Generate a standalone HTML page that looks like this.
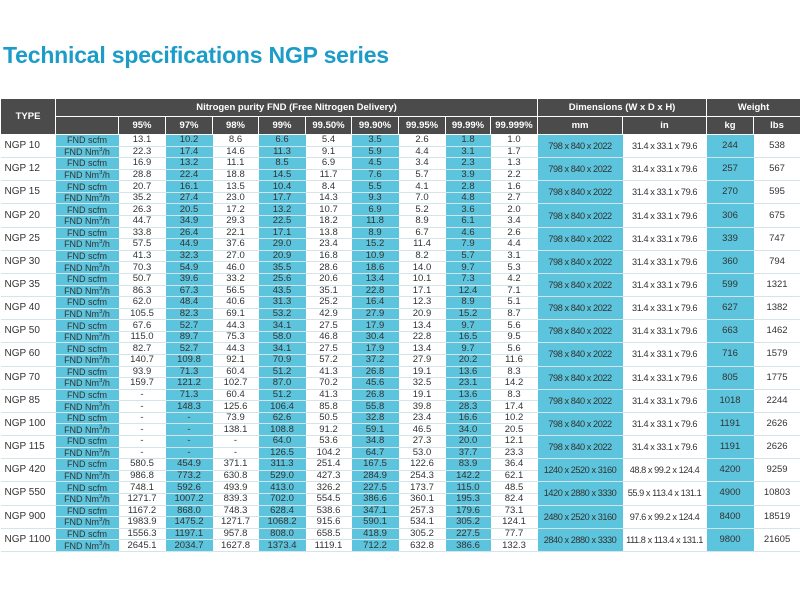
<!DOCTYPE html>
<html><head><meta charset="utf-8"><style>
body{margin:0;width:800px;height:600px;background:#fff;overflow:hidden;font-family:"Liberation Sans",sans-serif;}
h1{position:absolute;left:3px;top:42px;margin:0;font-size:23px;font-weight:bold;color:#1c9cc8;letter-spacing:-0.2px;}
table{position:absolute;left:0;top:99px;width:800px;border-collapse:collapse;table-layout:fixed;font-size:9.5px;color:#333;}
td,th{padding:0;text-align:center;white-space:nowrap;overflow:hidden;line-height:10px;vertical-align:middle;}
th{background:#4b4b4b;color:#fff;font-size:9.5px;font-weight:bold;border:1px solid #fff;border-top:none;}
tr.h1 th{height:17px;}
tr.h2 th{height:17px;}
td{height:10.58px;border-bottom:1px solid #d3e4ea;}
td.b{background:#5cc4dc;}
td.t{text-align:left;padding-left:4px;font-size:10px;border-bottom:1px solid #d3e4ea;}
td.l{background:#5cc4dc;font-size:9px;}
td.d{font-size:9.5px;}
td.m{font-size:9.2px;letter-spacing:-0.45px;}
</style></head><body>
<h1>Technical specifications NGP series</h1>
<table>
<colgroup><col style="width:55px"><col style="width:63px"><col style="width:47px"><col style="width:47px"><col style="width:46px"><col style="width:47px"><col style="width:46px"><col style="width:47px"><col style="width:47px"><col style="width:45px"><col style="width:47px"><col style="width:85px"><col style="width:84px"><col style="width:47px"><col style="width:47px"></colgroup>
<tr class="h1"><th rowspan="2">TYPE</th><th colspan="10">Nitrogen purity FND (Free Nitrogen Delivery)</th><th colspan="2">Dimensions (W x D x H)</th><th colspan="2">Weight</th></tr>
<tr class="h2"><th></th><th>95%</th><th>97%</th><th>98%</th><th>99%</th><th>99.50%</th><th>99.90%</th><th>99.95%</th><th>99.99%</th><th>99.999%</th><th>mm</th><th>in</th><th>kg</th><th>lbs</th></tr>
<tbody id="tb"></tbody>
</table>
<script>
var D=[
["NGP 10","13.1 10.2 8.6 6.6 5.4 3.5 2.6 1.8 1.0","22.3 17.4 14.6 11.3 9.1 5.9 4.4 3.1 1.7","798 x 840 x 2022","31.4 x 33.1 x 79.6","244","538"],
["NGP 12","16.9 13.2 11.1 8.5 6.9 4.5 3.4 2.3 1.3","28.8 22.4 18.8 14.5 11.7 7.6 5.7 3.9 2.2","798 x 840 x 2022","31.4 x 33.1 x 79.6","257","567"],
["NGP 15","20.7 16.1 13.5 10.4 8.4 5.5 4.1 2.8 1.6","35.2 27.4 23.0 17.7 14.3 9.3 7.0 4.8 2.7","798 x 840 x 2022","31.4 x 33.1 x 79.6","270","595"],
["NGP 20","26.3 20.5 17.2 13.2 10.7 6.9 5.2 3.6 2.0","44.7 34.9 29.3 22.5 18.2 11.8 8.9 6.1 3.4","798 x 840 x 2022","31.4 x 33.1 x 79.6","306","675"],
["NGP 25","33.8 26.4 22.1 17.1 13.8 8.9 6.7 4.6 2.6","57.5 44.9 37.6 29.0 23.4 15.2 11.4 7.9 4.4","798 x 840 x 2022","31.4 x 33.1 x 79.6","339","747"],
["NGP 30","41.3 32.3 27.0 20.9 16.8 10.9 8.2 5.7 3.1","70.3 54.9 46.0 35.5 28.6 18.6 14.0 9.7 5.3","798 x 840 x 2022","31.4 x 33.1 x 79.6","360","794"],
["NGP 35","50.7 39.6 33.2 25.6 20.6 13.4 10.1 7.3 4.2","86.3 67.3 56.5 43.5 35.1 22.8 17.1 12.4 7.1","798 x 840 x 2022","31.4 x 33.1 x 79.6","599","1321"],
["NGP 40","62.0 48.4 40.6 31.3 25.2 16.4 12.3 8.9 5.1","105.5 82.3 69.1 53.2 42.9 27.9 20.9 15.2 8.7","798 x 840 x 2022","31.4 x 33.1 x 79.6","627","1382"],
["NGP 50","67.6 52.7 44.3 34.1 27.5 17.9 13.4 9.7 5.6","115.0 89.7 75.3 58.0 46.8 30.4 22.8 16.5 9.5","798 x 840 x 2022","31.4 x 33.1 x 79.6","663","1462"],
["NGP 60","82.7 52.7 44.3 34.1 27.5 17.9 13.4 9.7 5.6","140.7 109.8 92.1 70.9 57.2 37.2 27.9 20.2 11.6","798 x 840 x 2022","31.4 x 33.1 x 79.6","716","1579"],
["NGP 70","93.9 71.3 60.4 51.2 41.3 26.8 19.1 13.6 8.3","159.7 121.2 102.7 87.0 70.2 45.6 32.5 23.1 14.2","798 x 840 x 2022","31.4 x 33.1 x 79.6","805","1775"],
["NGP 85","- 71.3 60.4 51.2 41.3 26.8 19.1 13.6 8.3","- 148.3 125.6 106.4 85.8 55.8 39.8 28.3 17.4","798 x 840 x 2022","31.4 x 33.1 x 79.6","1018","2244"],
["NGP 100","- - 73.9 62.6 50.5 32.8 23.4 16.6 10.2","- - 138.1 108.8 91.2 59.1 46.5 34.0 20.5","798 x 840 x 2022","31.4 x 33.1 x 79.6","1191","2626"],
["NGP 115","- - - 64.0 53.6 34.8 27.3 20.0 12.1","- - - 126.5 104.2 64.7 53.0 37.7 23.3","798 x 840 x 2022","31.4 x 33.1 x 79.6","1191","2626"],
["NGP 420","580.5 454.9 371.1 311.3 251.4 167.5 122.6 83.9 36.4","986.8 773.2 630.8 529.0 427.3 284.9 254.3 142.2 62.1","1240 x 2520 x 3160","48.8 x 99.2 x 124.4","4200","9259"],
["NGP 550","748.1 592.6 493.9 413.0 326.2 227.5 173.7 115.0 48.5","1271.7 1007.2 839.3 702.0 554.5 386.6 360.1 195.3 82.4","1420 x 2880 x 3330","55.9 x 113.4 x 131.1","4900","10803"],
["NGP 900","1167.2 868.0 748.3 628.4 538.6 347.1 257.3 179.6 73.1","1983.9 1475.2 1271.7 1068.2 915.6 590.1 534.1 305.2 124.1","2480 x 2520 x 3160","97.6 x 99.2 x 124.4","8400","18519"],
["NGP 1100","1556.3 1197.1 957.8 808.0 658.5 418.9 305.2 227.5 77.7","2645.1 2034.7 1627.8 1373.4 1119.1 712.2 632.8 386.6 132.3","2840 x 2880 x 3330","111.8 x 113.4 x 131.1","9800","21605"]];
var h="";
D.forEach(function(r){
 function vals(s){return s.split(" ").map(function(v,i){return '<td'+(i%2==1?' class="b"':'')+'>'+v+'</td>';}).join("");}
 h+='<tr><td rowspan="2" class="t">'+r[0]+'</td><td class="l">FND scfm</td>'+vals(r[1])+
 '<td rowspan="2" class="b m">'+r[3]+'</td><td rowspan="2" class="m">'+r[4]+'</td><td rowspan="2" class="b d">'+r[5]+'</td><td rowspan="2" class="d">'+r[6]+'</td></tr>';
 h+='<tr><td class="l">FND Nm<sup style="font-size:6px;line-height:0">3</sup>/h</td>'+vals(r[2])+'</tr>';
});
document.getElementById("tb").innerHTML=h;
</script>
</body></html>
